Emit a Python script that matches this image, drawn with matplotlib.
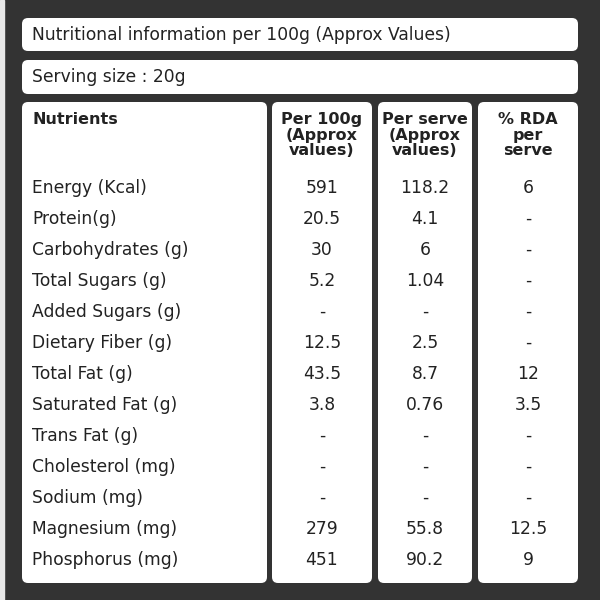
import matplotlib
matplotlib.use('Agg')
import matplotlib.pyplot as plt
from matplotlib.patches import FancyBboxPatch, Rectangle

title = 'Nutritional information per 100g (Approx Values)'
serving = 'Serving size : 20g'
headers = ['Nutrients', 'Per 100g\n(Approx\nvalues)', 'Per serve\n(Approx\nvalues)', '% RDA\nper\nserve']
nutrients = ['Energy (Kcal)', 'Protein(g)', 'Carbohydrates (g)', 'Total Sugars (g)',
             'Added Sugars (g)', 'Dietary Fiber (g)', 'Total Fat (g)', 'Saturated Fat (g)',
             'Trans Fat (g)', 'Cholesterol (mg)', 'Sodium (mg)', 'Magnesium (mg)',
             'Phosphorus (mg)']
per100 = ['591', '20.5', '30', '5.2', '-', '12.5', '43.5', '3.8', '-', '-', '-', '279', '451']
perserve = ['118.2', '4.1', '6', '1.04', '-', '2.5', '8.7', '0.76', '-', '-', '-', '55.8', '90.2']
rda = ['6', '-', '-', '-', '-', '-', '12', '3.5', '-', '-', '-', '12.5', '9']

plt.rcParams['font.family'] = ['DejaVu Sans']
fig = plt.figure(figsize=(6, 6), dpi=100)
fig.patch.set_facecolor('#333333')
ax = fig.add_axes([0, 0, 1, 1])
ax.set_xlim(0, 600)
ax.set_ylim(600, 0)
ax.axis('off')
ax.add_patch(Rectangle((0, 0), 4, 600, color='#e8e8e8'))

def box(x0, y0, x1, y1):
    ax.add_patch(FancyBboxPatch((x0 + 6, y0 + 6), x1 - x0 - 12, y1 - y0 - 12,
                                boxstyle='round,pad=6', fc='white', ec='none'))

box(22, 18, 578, 51)
box(22, 60, 578, 94)
cols = [(22, 267), (272, 372), (378, 472), (478, 578)]
for c in cols:
    box(c[0], 102, c[1], 583)

fs = 12.3
ax.text(32, 35, title, fontsize=fs, va='center', color='#222222')
ax.text(32, 77, serving, fontsize=fs, va='center', color='#222222')

ax.text(32, 112, headers[0], fontsize=11.5, fontweight='bold', va='top', color='#222222')
for (x0, x1), h in zip(cols[1:], headers[1:]):
    ax.text((x0 + x1) / 2, 112, h, fontsize=11.5, fontweight='bold', va='top', ha='center',
            linespacing=1.05, color='#222222')

for i, name in enumerate(nutrients):
    y = 188 + i * 31
    ax.text(32, y, name, fontsize=fs, va='center', color='#222222')
    for (x0, x1), v in zip(cols[1:], [per100[i], perserve[i], rda[i]]):
        ax.text((x0 + x1) / 2, y, v, fontsize=fs, va='center', ha='center', color='#222222')

fig.savefig('out.png', dpi=100, facecolor=fig.get_facecolor())
